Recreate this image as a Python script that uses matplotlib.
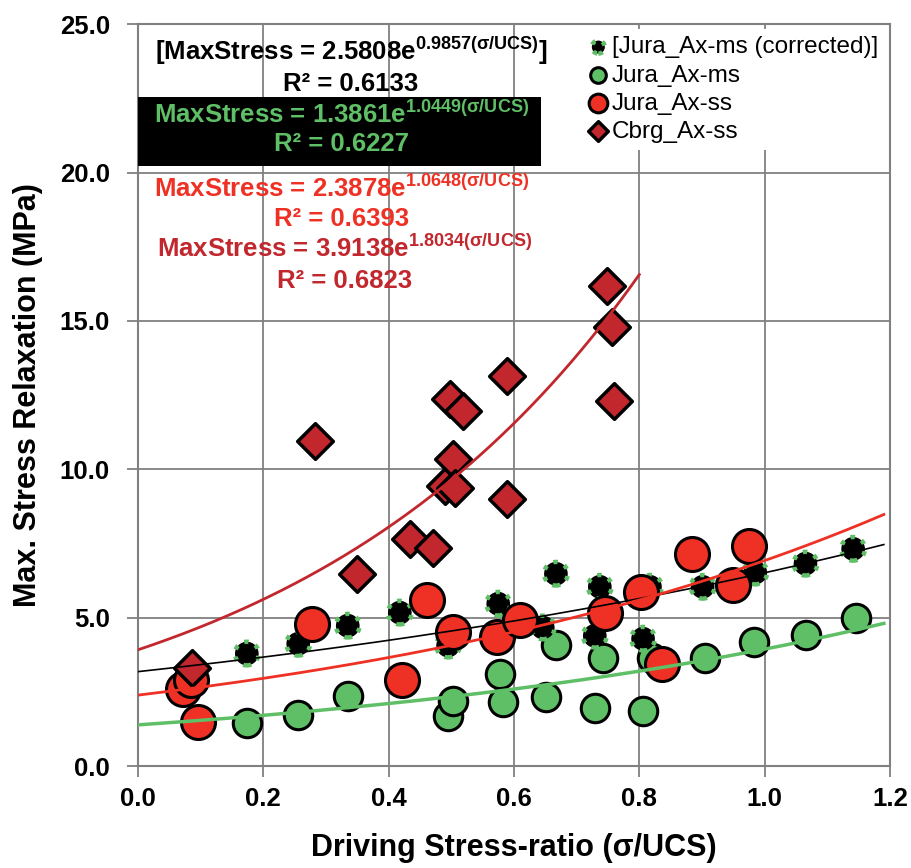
import numpy as np
import matplotlib
matplotlib.use("Agg")
import matplotlib.pyplot as plt
from matplotlib.patches import Rectangle

plt.rcParams['font.family'] = ['Liberation Sans', 'DejaVu Sans']
plt.rcParams['mathtext.fontset'] = 'custom'
plt.rcParams['mathtext.rm'] = 'Liberation Sans'
plt.rcParams['mathtext.bf'] = 'Liberation Sans:bold'

# Jura_Ax-ms (corrected)
corr_x = [0.088, 0.174, 0.256, 0.335, 0.418, 0.495, 0.575, 0.646, 0.667, 0.729, 0.737,
          0.806, 0.817, 0.901, 0.985, 1.065, 1.141]
corr_y = [3.0, 3.79, 4.12, 4.73, 5.17, 4.06, 5.47, 4.67, 6.48, 4.39, 6.04,
          4.29, 6.04, 6.04, 6.52, 6.82, 7.32]

# Jura_Ax-ms
ms_x = [0.174, 0.256, 0.335, 0.495, 0.503, 0.578, 0.583, 0.651, 0.667, 0.729, 0.742,
        0.806, 0.820, 0.905, 0.983, 1.066, 1.145]
ms_y = [1.44, 1.73, 2.37, 1.70, 2.20, 3.11, 2.17, 2.34, 4.09, 1.94, 3.65,
        1.87, 3.65, 3.65, 4.19, 4.42, 4.99]

# Jura_Ax-ss
ss_x = [0.072, 0.085, 0.096, 0.278, 0.421, 0.461, 0.503, 0.573, 0.610, 0.745, 0.803,
        0.836, 0.884, 0.950, 0.975]
ss_y = [2.6, 2.9, 1.5, 4.77, 2.9, 5.6, 4.53, 4.36, 4.93, 5.17, 5.85,
        3.45, 7.16, 6.11, 7.42]

# Cbrg_Ax-ss
cb_x = [0.086, 0.283, 0.350, 0.434, 0.471, 0.490, 0.498, 0.503, 0.506, 0.519, 0.589,
        0.589, 0.748, 0.757, 0.760]
cb_y = [3.3, 10.96, 6.48, 7.66, 7.36, 9.45, 12.37, 10.35, 9.38, 11.97, 13.15,
        9.0, 16.18, 14.8, 12.31]

# trend lines: (a, b, x_end) for a*exp(b*x); black one
fit_corr = [3.18, 0.717, 1.19]
fit_ms = [1.3861, 1.0449, 1.19]
fit_ss = [2.3878, 1.0648, 1.19]
fit_cb = [3.9138, 1.8034, 0.80]

red = '#EE3124'
dark_red = '#C1272D'
green = '#5FBF66'

fig, ax = plt.subplots(figsize=(9.12, 8.68), dpi=100)
fig.subplots_adjust(left=0.151, right=0.976, bottom=0.1175, top=0.972)

ax.scatter(ms_x, ms_y, s=420, c=green, edgecolors='black', linewidths=2.2, zorder=3,
           label='Jura_Ax-ms')
ax.scatter(corr_x, corr_y, s=290, c='black', edgecolors=green, linewidths=3.2,
           linestyles=':', zorder=4, label='[Jura_Ax-ms (corrected)]')
ax.scatter(ss_x, ss_y, s=600, c=red, edgecolors='black', linewidths=2.2, zorder=5,
           label='Jura_Ax-ss')
ax.scatter(cb_x, cb_y, s=330, marker='D', c=dark_red, edgecolors='black', linewidths=2.5,
           zorder=6, label='Cbrg_Ax-ss')

for fit, col, lw in [(fit_corr, 'black', 1.2), (fit_ms, green, 2.5),
                     (fit_ss, red, 2.0), (fit_cb, dark_red, 2.0)]:
    xs = np.linspace(0, fit[2], 200)
    ax.plot(xs, fit[0] * np.exp(fit[1] * xs), color=col, lw=lw, zorder=7)

ax.set_xlim(0, 1.2)
ax.set_ylim(0, 25)
ax.set_xticks(np.arange(0, 1.21, 0.2))
ax.set_yticks(np.arange(0, 25.1, 5))
ax.set_xticklabels([f'{v:.1f}' for v in np.arange(0, 1.21, 0.2)])
ax.set_yticklabels([f'{v:.1f}' for v in np.arange(0, 25.1, 5)])
ax.grid(True, color='#808080', lw=1.3)
ax.set_axisbelow(True)
for sp in ax.spines.values():
    sp.set_color('#808080')
    sp.set_linewidth(1.5)
ax.tick_params(direction='out', length=8, color='#808080', width=1.3, pad=7)
ax.tick_params(axis='y', pad=12)
for lab in ax.get_xticklabels() + ax.get_yticklabels():
    lab.set_fontsize(18.5)
    lab.set_fontweight('bold')

ax.set_xlabel('Driving Stress-ratio (σ/UCS)', fontsize=22, fontweight='bold', labelpad=16)
ax.set_ylabel('Max. Stress Relaxation (MPa)', fontsize=22, fontweight='bold', labelpad=12)

# equation labels
ax.add_patch(Rectangle((0, 20.22), 0.643, 2.33, facecolor='black', edgecolor='none',
                       zorder=8, clip_on=False))
eqs = [
    ('[MaxStress = 2.5808e$^{\\mathbf{0.9857(σ/UCS)}}$]', 'R² = 0.6133', 'black', 0.34, 24.1, 22.98),
    ('MaxStress = 1.3861e$^{\\mathbf{1.0449(σ/UCS)}}$', 'R² = 0.6227', green, 0.325, 21.98, 20.96),
    ('MaxStress = 2.3878e$^{\\mathbf{1.0648(σ/UCS)}}$', 'R² = 0.6393', red, 0.325, 19.48, 18.43),
    ('MaxStress = 3.9138e$^{\\mathbf{1.8034(σ/UCS)}}$', 'R² = 0.6823', dark_red, 0.33, 17.46, 16.35),
]
for eq, r2, col, xc, y1, y2 in eqs:
    ax.text(xc, y1, eq, color=col, fontsize=18.5, fontweight='bold', ha='center',
            va='center', zorder=9)
    ax.text(xc, y2, r2, color=col, fontsize=18.5, fontweight='bold', ha='center',
            va='center', zorder=9)

handles, labels = ax.get_legend_handles_labels()
order = [1, 0, 2, 3]
leg = ax.legend([handles[i] for i in order], [labels[i] for i in order],
                loc='upper right', bbox_to_anchor=(1.0, 1.0), fontsize=17.5,
                frameon=True, framealpha=1, edgecolor='none', handletextpad=0.05,
                markerscale=0.55, borderaxespad=0.2, labelspacing=0.25, handlelength=1.0,
                borderpad=0.3)
leg.set_zorder(10)

plt.savefig('out.png', dpi=100)
